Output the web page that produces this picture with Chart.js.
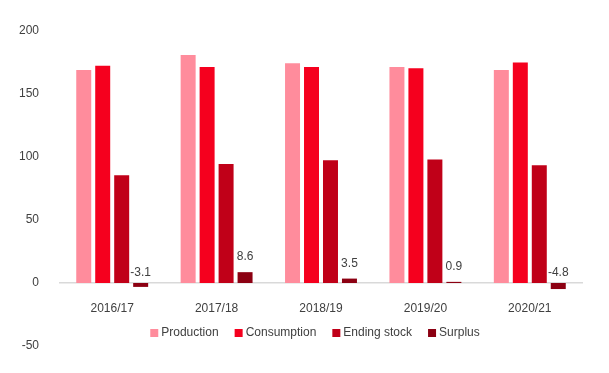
<!DOCTYPE html>
<html>
<head>
<meta charset="utf-8">
<script src="https://cdn.jsdelivr.net/npm/chart.js@4"></script>
<style>
  html, body { margin: 0; padding: 0; background: #fff; }
  #wrap { width: 609px; height: 373px; }
</style>
</head>
<body>
<div id="wrap"><canvas id="chart" width="609" height="373"></canvas></div>
<script>
const years = ["2016/17", "2017/18", "2018/19", "2019/20", "2020/21"];
const production = [169, 181, 174.5, 171.5, 169];
const consumption = [172.5, 171.5, 171.5, 170.5, 175];
const endingStock = [85.5, 94.5, 97.5, 98, 93.5];
const surplus = [-3.1, 8.6, 3.5, 0.9, -4.8];
const yTicks = [200, 150, 100, 50, 0, -50];

const FONT = "'Liberation Sans', Arial, sans-serif";
const FONT_SIZE = 12;
const textColor = "#404040";

// value labels above the surplus bars
const surplusLabels = {
  id: "surplusLabels",
  afterDatasetsDraw(chart) {
    const ctx = chart.ctx;
    const meta = chart.getDatasetMeta(3);
    const zeroY = chart.scales.y.getPixelForValue(0);
    ctx.save();
    ctx.font = FONT_SIZE + "px " + FONT;
    ctx.fillStyle = textColor;
    ctx.textAlign = "center";
    ctx.textBaseline = "bottom";
    meta.data.forEach((bar, i) => {
      const v = surplus[i];
      const y = v >= 0 ? Math.min(bar.y, zeroY) - 9 : zeroY - 4;
      ctx.fillText(v.toFixed(1), bar.x, y);
    });
    ctx.restore();
  }
};

// legend drawn inside the plot, under the category labels
const innerLegend = {
  id: "innerLegend",
  afterDraw(chart) {
    const ctx = chart.ctx;
    const sets = chart.data.datasets;
    ctx.save();
    ctx.font = FONT_SIZE + "px " + FONT;
    ctx.textBaseline = "middle";
    const box = 8, gapText = 3, gapItem = 16;
    let total = 0;
    sets.forEach((ds, i) => {
      total += box + gapText + ctx.measureText(ds.label).width;
      if (i < sets.length - 1) total += gapItem;
    });
    let x = 315 - total / 2;
    const y = 333;
    sets.forEach((ds) => {
      ctx.fillStyle = ds.backgroundColor;
      ctx.fillRect(x, y - box / 2, box, box);
      x += box + gapText;
      ctx.fillStyle = textColor;
      ctx.fillText(ds.label, x, y);
      x += ctx.measureText(ds.label).width + gapItem;
    });
    ctx.restore();
  }
};

new Chart(document.getElementById("chart").getContext("2d"), {
  type: "bar",
  data: {
    labels: years,
    datasets: [
      { label: "Production", data: production, backgroundColor: "#FF8C9C" },
      { label: "Consumption", data: consumption, backgroundColor: "#F5001E" },
      { label: "Ending stock", data: endingStock, backgroundColor: "#C00018" },
      { label: "Surplus", data: surplus, backgroundColor: "#8C0012" }
    ]
  },
  options: {
    responsive: false,
    animation: false,
    layout: { padding: { left: 0, right: 27, top: 31, bottom: 27 } },
    datasets: {
      bar: { barPercentage: 0.79, categoryPercentage: 0.727 }
    },
    plugins: {
      legend: { display: false },
      tooltip: { enabled: false }
    },
    scales: {
      x: {
        position: { y: 0 },
        grid: { display: false },
        border: { display: true, color: "#d9d9d9", width: 1.5 },
        ticks: { color: textColor, font: { family: FONT, size: FONT_SIZE }, padding: 10 }
      },
      y: {
        min: -50,
        max: 200,
        afterFit(scale) { scale.width = 60; },
        afterBuildTicks(scale) { scale.ticks = yTicks.map((v) => ({ value: v })); },
        grid: { display: false },
        border: { display: false },
        ticks: { color: textColor, font: { family: FONT, size: FONT_SIZE }, padding: 13 }
      }
    }
  },
  plugins: [surplusLabels, innerLegend]
});
</script>
</body>
</html>
